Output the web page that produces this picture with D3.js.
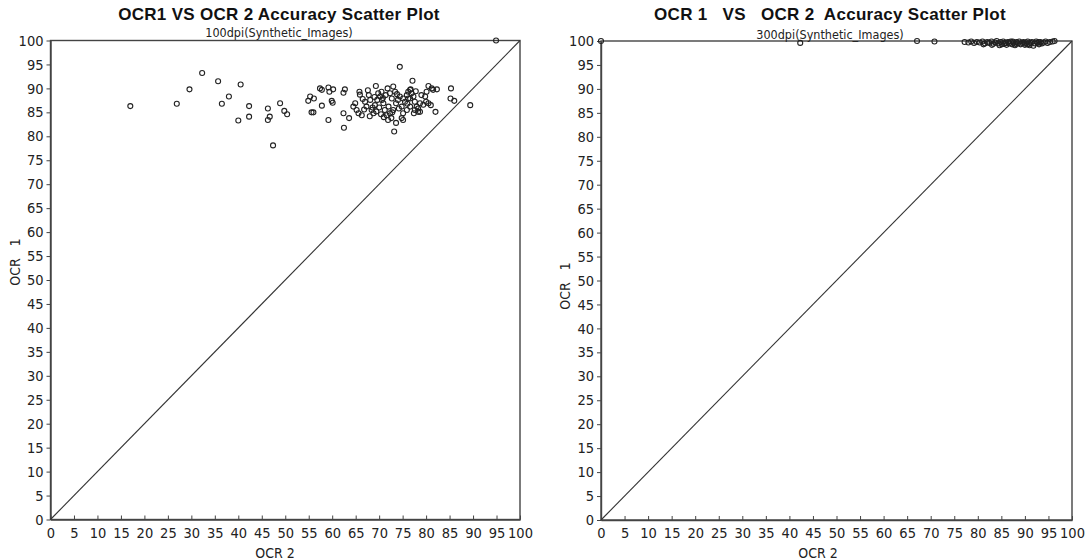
<html>
	<head>
		<meta charset="utf-8">
	</head>
	<style>
		body { margin: 0; background: #fff; }
		.tick text { font-family: "Liberation Sans Narrow", "Arial Narrow", "DejaVu Sans Condensed", sans-serif; font-size: 14.5px; fill: #222; }
		.axis-label { font-family: "Liberation Sans Narrow", "Arial Narrow", "DejaVu Sans Condensed", sans-serif; font-size: 14px; fill: #222; }
		.title { font-family: "Liberation Sans", Arial, sans-serif; font-weight: bold; font-size: 17px; letter-spacing: 0.3px; fill: #111; }
		.subtitle { font-family: "Liberation Sans Narrow", "Arial Narrow", "DejaVu Sans Condensed", sans-serif; font-size: 12.5px; fill: #222; }
		circle { fill: none; stroke: #222; stroke-width: 1.1px; }
	</style>
	<body>
		<script src="https://cdnjs.cloudflare.com/ajax/libs/d3/7.8.5/d3.min.js"></script>
		<script>
			var width = 1086,
				height = 560;

			var ticks = [0, 5, 10, 15, 20, 25, 30, 35, 40, 45, 50, 55, 60, 65, 70, 75, 80, 85, 90, 95, 100];

			// 100dpi panel: OCR 2 (x) and OCR 1 (y) accuracy
			var left_ocr2 = [17.0, 26.9, 29.6, 32.3, 35.7, 36.5, 38.0, 40.5, 40.0, 42.3, 42.3, 46.3, 46.7, 46.3, 47.4, 48.9, 49.8, 50.4,
				74.4, 55.3, 54.9, 56.1, 57.4, 57.8, 59.2, 59.4, 60.2, 57.8, 55.6, 56.0, 59.9, 60.1, 59.2, 62.7, 62.4, 62.4, 63.6, 62.5,
				65.8, 65.9, 64.5, 64.9, 65.2, 65.6, 66.3, 67.0, 67.3, 68.1, 68.4, 68.8, 69.1, 69.3, 69.8, 70.2, 69.6, 70.5, 70.9, 71.2,
				71.6, 71.9, 72.3, 72.7, 73.0, 73.4, 73.6, 72.3, 73.0, 73.6, 73.2, 74.4, 74.8, 75.1, 75.5, 75.9, 75.1, 76.2, 76.7, 77.1,
				76.6, 77.3, 77.6, 78.0, 78.3, 77.4, 80.5, 81.2, 81.5, 82.3, 80.1, 79.8, 80.0, 80.5, 81.0, 78.7, 78.3, 78.7, 77.6, 76.6,
				74.8, 76.6, 76.9, 75.9, 76.2, 75.1, 82.0, 85.3, 85.2, 86.0, 89.4, 94.9,
				66.5, 67.8, 68.6, 70.0, 70.6, 71.4, 71.0, 72.0, 72.8, 74.0, 74.2, 69.4, 70.4, 66.8, 68.0, 73.8, 71.8, 70.8, 67.6, 76.0,
				79.0, 79.4, 77.8, 69.0, 72.6];
			var left_ocr1 = [86.3, 86.8, 89.8, 93.2, 91.5, 86.8, 88.3, 90.8, 83.3, 86.3, 84.1, 85.8, 84.1, 83.4, 78.1, 86.9, 85.3, 84.6,
				94.5, 88.3, 87.4, 87.9, 90.0, 89.7, 90.2, 89.3, 89.8, 86.4, 85.0, 85.0, 87.4, 87.0, 83.4, 89.8, 89.1, 84.8, 83.8, 81.8,
				89.3, 88.7, 86.2, 86.9, 85.5, 84.8, 84.4, 87.2, 86.2, 87.6, 85.5, 84.8, 86.5, 90.5, 89.0, 88.3, 87.6, 89.3, 86.9, 85.5,
				84.4, 83.4, 89.0, 87.9, 90.4, 89.3, 86.9, 84.8, 85.5, 82.8, 81.0, 88.3, 86.2, 84.8, 87.2, 85.5, 83.4, 89.3, 89.8, 91.6,
				87.9, 88.3, 87.2, 86.2, 85.1, 84.8, 90.5, 90.0, 89.7, 89.8, 89.3, 88.3, 87.2, 86.9, 86.5, 86.9, 85.8, 85.1, 85.5, 86.2,
				83.8, 89.7, 89.0, 88.6, 87.9, 87.9, 85.1, 90.0, 87.9, 87.4, 86.5, 100.0,
				87.8, 88.6, 86.0, 86.0, 87.6, 88.6, 84.0, 86.2, 85.0, 87.6, 85.8, 85.2, 84.6, 85.6, 84.2, 88.8, 90.0, 88.0, 89.6, 86.8,
				88.6, 86.6, 89.4, 88.2, 83.8];

			// 300dpi panel
			var right_ocr2 = [0, 42.3, 67.1, 70.8,
				77.2, 78.0, 78.6, 79.2, 79.8, 80.4, 81.0, 81.5, 82.0, 82.4, 82.9, 83.3, 83.7, 84.0, 84.4, 84.8, 85.1, 85.4, 85.8, 86.1,
				86.4, 86.7, 87.0, 87.3, 87.6, 87.9, 88.2, 88.5, 88.8, 89.1, 89.4, 89.7, 90.0, 90.3, 90.6, 90.9, 91.2, 91.5, 91.8, 92.1,
				92.4, 92.7, 93.0, 93.3, 93.6, 94.0, 94.4, 94.8, 95.3, 95.9, 96.3, 81.2, 83.0, 84.6, 86.0, 88.0, 89.9, 91.0, 92.9, 85.6,
				87.4, 90.5];
			var right_ocr1 = [100, 99.6, 100, 99.9,
				99.8, 99.7, 99.9, 99.6, 99.8, 99.7, 99.9, 99.5, 99.8, 99.6, 99.9, 99.4, 99.7, 100, 99.5, 99.8, 99.3, 99.9, 99.6, 99.2,
				99.8, 99.5, 99.9, 99.3, 99.7, 99.1, 99.8, 99.5, 99.9, 99.3, 99.6, 99.8, 99.2, 99.7, 99.9, 99.4, 99.6, 99.8, 99.0, 99.5,
				99.9, 99.6, 99.3, 99.8, 99.5, 99.7, 99.9, 99.6, 99.8, 99.9, 100, 99.3, 99.2, 99.1, 99.6, 99.4, 99.5, 99.1, 99.8, 99.4,
				99.9, 99.3];

			var svg = d3.select("body").append("svg")
				.attr("width", width)
				.attr("height", height);

			function drawPanel(p) {
				var x = d3.scaleLinear().domain([0, 100]).range([p.left, p.right]);
				var y = d3.scaleLinear().domain([0, 100]).range([p.bottom, p.top]);
				var g = svg.append("g");

				// frame
				g.append("rect")
					.attr("x", p.left).attr("y", p.top)
					.attr("width", p.right - p.left).attr("height", p.bottom - p.top)
					.attr("fill", "none").attr("stroke", "#444").attr("stroke-width", 1.4);

				var xAxis = g.append("g")
					.attr("transform", "translate(0," + p.bottom + ")")
					.call(d3.axisBottom(x).tickValues(ticks).tickSizeInner(-4).tickSizeOuter(0).tickPadding(8));
				var yAxis = g.append("g")
					.attr("transform", "translate(" + p.left + ",0)")
					.call(d3.axisLeft(y).tickValues(ticks).tickSizeInner(4).tickSizeOuter(0).tickPadding(3));
				[xAxis, yAxis].forEach(function(a) {
					a.select(".domain").attr("stroke", "#444").attr("stroke-width", 1.4);
					a.selectAll(".tick line").attr("stroke", "#444");
					a.attr("font-family", null).attr("font-size", null);
				});

				// y = x reference line
				g.append("line")
					.attr("x1", x(0)).attr("y1", y(0))
					.attr("x2", x(100)).attr("y2", y(100))
					.attr("stroke", "#333").attr("stroke-width", 1.1);

				g.selectAll("circle")
					.data(p.xs)
					.enter().append("circle")
					.attr("cx", function(d) { return x(d); })
					.attr("cy", function(d, i) { return y(p.ys[i]); })
					.attr("r", 2.5);

				g.append("text").attr("class", "title")
					.attr("x", p.titleX).attr("y", 20)
					.attr("text-anchor", "middle")
					.attr("xml:space", "preserve")
					.text(p.title);
				g.append("text").attr("class", "subtitle")
					.attr("x", p.titleX).attr("y", p.subY)
					.attr("text-anchor", "middle")
					.text(p.subtitle);

				g.append("text").attr("class", "axis-label")
					.attr("x", p.xLabelX).attr("y", 558)
					.attr("text-anchor", "middle")
					.text("OCR  2");
				g.append("text").attr("class", "axis-label")
					.attr("transform", "translate(" + p.yLabelX + "," + p.yLabelY + ") rotate(-90)")
					.attr("text-anchor", "middle")
					.attr("xml:space", "preserve")
					.text("OCR   1");
			}

			drawPanel({
				left: 50.5, right: 520, top: 40.5, bottom: 519.5,
				xs: left_ocr2, ys: left_ocr1,
				title: "OCR1 VS OCR 2 Accuracy Scatter Plot",
				subtitle: "100dpi(Synthetic_Images)",
				titleX: 279, subY: 37,
				xLabelX: 275, yLabelX: 20, yLabelY: 262
			});
			drawPanel({
				left: 601, right: 1072, top: 41, bottom: 520,
				xs: right_ocr2, ys: right_ocr1,
				title: "OCR 1   VS   OCR 2  Accuracy Scatter Plot",
				subtitle: "300dpi(Synthetic_Images)",
				titleX: 830, subY: 39,
				xLabelX: 818, yLabelX: 570, yLabelY: 286
			});
		</script>
	</body>
</html>
